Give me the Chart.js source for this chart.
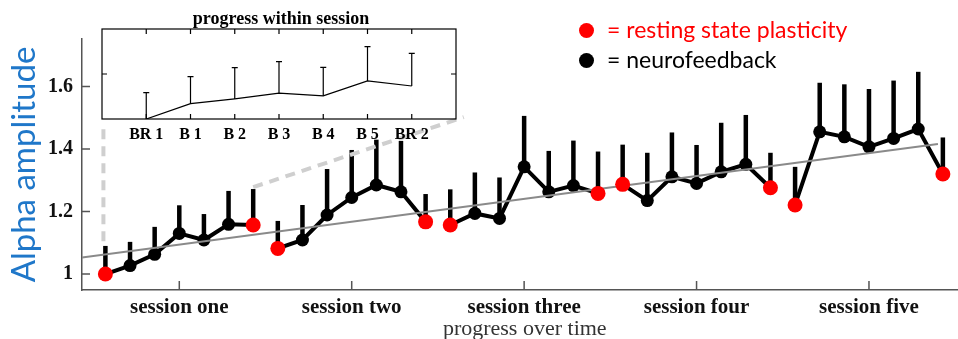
<!DOCTYPE html>
<html lang="en">
<head>
<meta charset="UTF-8">
<title>Alpha amplitude over sessions</title>
<script src="https://cdn.jsdelivr.net/npm/chart.js@4.4.0/dist/chart.umd.min.js"></script>
<style>
  body { margin: 0; width: 958px; height: 339px; overflow: hidden; position: relative; background: #fff; }
  canvas { position: absolute; left: 0; top: 0; }
  .dot { position: absolute; width: 15px; height: 15px; border-radius: 50%; }
  .key { position: absolute; font-family: 'Lato', sans-serif; font-size: 23px; line-height: 1; white-space: nowrap; }
</style>
</head>
<body>
<canvas id="mainChart" width="975" height="339"></canvas>
<canvas id="insetChart" width="470" height="150"></canvas>
<span class="dot" style="left:579px;top:23px;background:#f00"></span>
<span class="dot" style="left:579px;top:53px;background:#000"></span>
<div class="key" style="left:607px;top:18px;color:#f00">= resting state plasticity</div>
<div class="key" style="left:607px;top:48px;color:#000">= neurofeedback</div>
<script>
// main plot: 5 sessions x 7 blocks (BR1, B1..B5, BR2)
const sessionLabels = ['session one', 'session two', 'session three', 'session four', 'session five'];
const sessionCenters = [3, 10, 17, 24, 31];
const perSession = 7;
const alphaMean = [
  1.000, 1.027, 1.063, 1.130, 1.109, 1.159, 1.157,
  1.082, 1.109, 1.189, 1.245, 1.285, 1.263, 1.167,
  1.157, 1.194, 1.178, 1.343, 1.263, 1.283, 1.258,
  1.287, 1.235, 1.311, 1.290, 1.327, 1.351, 1.276,
  1.221, 1.455, 1.439, 1.407, 1.434, 1.464, 1.320
];
const alphaUpper = [
  1.090, 1.103, 1.151, 1.220, 1.192, 1.266, 1.272,
  1.170, 1.221, 1.336, 1.397, 1.430, 1.426, 1.256,
  1.271, 1.325, 1.309, 1.506, 1.394, 1.427, 1.392,
  1.414, 1.388, 1.453, 1.413, 1.484, 1.509, 1.388,
  1.343, 1.612, 1.607, 1.592, 1.619, 1.647, 1.437
];
const trendX = [-0.95, 33.8];
const trendY = [1.053, 1.416];
const yTicks = [1, 1.2, 1.4, 1.6];
// dashed lines pointing from session one to the inset
const zoomAX = [-0.08, -0.08];
const zoomAY = [1.105, 1.486];
const zoomBX = [6.0, 14.55];
const zoomBY = [1.278, 1.502];

// inset
const withinLabels = ['BR 1', 'B 1', 'B 2', 'B 3', 'B 4', 'B 5', 'BR 2'];
const withinMean = [1.000, 1.051, 1.067, 1.086, 1.077, 1.127, 1.110];
const withinUpper = [1.088, 1.141, 1.171, 1.191, 1.172, 1.241, 1.219];

Chart.defaults.font.family = 'Liberation Serif';

function errorBars(means, uppers, width, cap) {
  return {
    id: 'errorBars',
    beforeDatasetsDraw(chart) {
      const { ctx, scales: { x, y } } = chart;
      ctx.save();
      ctx.strokeStyle = '#000';
      ctx.lineWidth = width;
      means.forEach((m, i) => {
        const px = x.getPixelForValue(i);
        const top = y.getPixelForValue(uppers[i]);
        ctx.beginPath();
        ctx.moveTo(px, y.getPixelForValue(m));
        ctx.lineTo(px, top);
        if (cap) {
          ctx.moveTo(px - cap, top);
          ctx.lineTo(px + cap, top);
        }
        ctx.stroke();
      });
      ctx.restore();
    }
  };
}

const mainTicks = {
  id: 'mainTicks',
  afterDraw(chart) {
    const { ctx, chartArea: a, scales: { x, y } } = chart;
    ctx.save();
    ctx.strokeStyle = '#555';
    ctx.lineWidth = 1.5;
    ctx.beginPath();
    yTicks.forEach(v => {
      const py = y.getPixelForValue(v);
      ctx.moveTo(a.left, py);
      ctx.lineTo(a.left + 8, py);
    });
    sessionCenters.forEach(v => {
      const px = x.getPixelForValue(v);
      ctx.moveTo(px, a.bottom);
      ctx.lineTo(px, a.bottom - 9);
    });
    ctx.stroke();
    ctx.restore();
  }
};

const insetFrame = {
  id: 'insetFrame',
  afterDraw(chart) {
    const { ctx, chartArea: a, scales: { x, y } } = chart;
    ctx.save();
    ctx.strokeStyle = '#000';
    ctx.lineWidth = 1.2;
    ctx.strokeRect(a.left, a.top, a.right - a.left, a.bottom - a.top);
    ctx.beginPath();
    withinLabels.forEach((_, i) => {
      const px = x.getPixelForValue(i);
      ctx.moveTo(px, a.bottom); ctx.lineTo(px, a.bottom - 5);
      ctx.moveTo(px, a.top); ctx.lineTo(px, a.top + 5);
    });
    const mid = y.getPixelForValue(1.15);
    ctx.moveTo(a.left, mid); ctx.lineTo(a.left + 5, mid);
    ctx.moveTo(a.right, mid); ctx.lineTo(a.right - 5, mid);
    ctx.stroke();
    ctx.fillStyle = '#000';
    ctx.font = 'bold 18px "Liberation Serif"';
    ctx.textAlign = 'center';
    ctx.textBaseline = 'middle';
    ctx.fillText('progress within session', (a.left + a.right) / 2 + 2, a.top - 10);
    ctx.restore();
  }
};

const sessionSets = sessionLabels.map((name, s) => {
  const start = s * perSession;
  const pts = alphaMean.slice(start, start + perSession).map((v, i) => ({ x: start + i, y: v }));
  return {
    label: name,
    data: pts,
    borderColor: '#000',
    borderWidth: 4,
    pointRadius: pts.map((_, i) => (i === 0 || i === perSession - 1) ? 0 : 6.5),
    pointBackgroundColor: '#000',
    pointBorderWidth: 0,
    order: 2
  };
});

const restingIdx = alphaMean.map((_, i) => i).filter(i => i % perSession === 0 || i % perSession === perSession - 1);
const restingSet = {
  label: 'resting state plasticity',
  data: restingIdx.map(i => ({ x: i, y: alphaMean[i] })),
  showLine: false,
  pointRadius: 7.5,
  pointBackgroundColor: '#f00',
  pointBorderWidth: 0,
  order: 0
};

const trendSet = {
  label: 'trend',
  data: trendX.map((x, i) => ({ x, y: trendY[i] })),
  borderColor: '#8a8a8a',
  borderWidth: 2,
  pointRadius: 0,
  order: 1
};

const dashed = (xs, ys) => ({
  data: xs.map((x, i) => ({ x, y: ys[i] })),
  borderColor: '#cfcfcf',
  borderWidth: 4,
  borderDash: [10, 7],
  pointRadius: 0,
  order: 3
});

new Chart(document.getElementById('mainChart'), {
  type: 'line',
  data: { datasets: [restingSet, trendSet, ...sessionSets, dashed(zoomAX, zoomAY), dashed(zoomBX, zoomBY)] },
  options: {
    responsive: false,
    animation: false,
    events: [],
    layout: { padding: { top: 39, right: 5, left: 0, bottom: 0 } },
    plugins: { legend: { display: false }, tooltip: { enabled: false } },
    scales: {
      x: {
        type: 'linear', min: -0.95, max: 35,
        grid: { display: false, drawTicks: false },
        border: { color: '#555', width: 1.5 },
        afterBuildTicks: s => { s.ticks = sessionCenters.map(v => ({ value: v })); },
        ticks: {
          callback: v => sessionLabels[sessionCenters.indexOf(v)],
          font: { size: 21, weight: 'bold' }, color: '#111', padding: 5,
          maxRotation: 0, autoSkip: false
        },
        title: {
          display: true, text: 'progress over time', color: '#333', padding: 0,
          font: { size: 22, lineHeight: 0.9 }
        },
        afterFit: s => { s.height = 49; }
      },
      y: {
        min: 0.949, max: 1.752,
        grid: { display: false, drawTicks: false },
        border: { color: '#555', width: 1.5 },
        afterBuildTicks: s => { s.ticks = yTicks.map(v => ({ value: v })); },
        ticks: {
          callback: v => v === 1 ? '1' : v.toFixed(1),
          font: { size: 20, weight: 'bold' }, color: '#111', padding: 9
        },
        title: {
          display: true, text: 'Alpha amplitude', color: '#1f77c9',
          font: { family: 'Lato', size: 33 }, padding: { top: 5, bottom: 0 }
        },
        afterFit: s => { s.width = 82; }
      }
    }
  },
  plugins: [errorBars(alphaMean, alphaUpper, 4.5, 0), mainTicks]
});

new Chart(document.getElementById('insetChart'), {
  type: 'line',
  data: {
    datasets: [{
      data: withinMean.map((v, i) => ({ x: i, y: v })),
      borderColor: '#000', borderWidth: 1.2, pointRadius: 0
    }]
  },
  options: {
    responsive: false,
    animation: false,
    events: [],
    layout: { padding: { left: 0, right: 14, top: 29, bottom: 0 } },
    plugins: { legend: { display: false }, tooltip: { enabled: false } },
    scales: {
      x: {
        type: 'linear', min: -1, max: 7,
        grid: { display: false, drawTicks: false },
        border: { display: false },
        afterBuildTicks: s => { s.ticks = withinLabels.map((_, i) => ({ value: i })); },
        ticks: {
          callback: v => withinLabels[v],
          font: { size: 16, weight: 'bold' }, color: '#000', padding: 6,
          maxRotation: 0, autoSkip: false
        },
        afterFit: s => { s.height = 31; }
      },
      y: {
        min: 1.0, max: 1.3,
        grid: { display: false, drawTicks: false },
        border: { display: false },
        ticks: { display: false },
        afterFit: s => { s.width = 102; }
      }
    }
  },
  plugins: [errorBars(withinMean, withinUpper, 1.2, 3), insetFrame]
});
</script>
</body>
</html>
